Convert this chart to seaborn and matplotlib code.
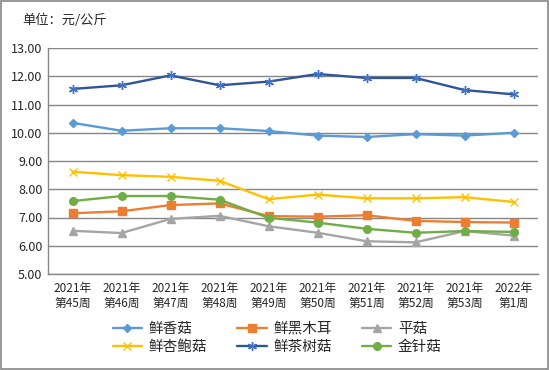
import matplotlib
matplotlib.use('Agg')
import matplotlib.pyplot as plt
import seaborn as sns
import pandas as pd

# ==== DATA ====
WEEKS = ['2021年\n第45周', '2021年\n第46周', '2021年\n第47周', '2021年\n第48周', '2021年\n第49周',
         '2021年\n第50周', '2021年\n第51周', '2021年\n第52周', '2021年\n第53周', '2022年\n第1周']
XIANGGU = [10.35, 10.07, 10.16, 10.16, 10.06, 9.90, 9.85, 9.95, 9.90, 10.00]
HEIMUER = [7.15, 7.22, 7.44, 7.50, 7.05, 7.03, 7.08, 6.88, 6.84, 6.82]
PINGGU = [6.53, 6.45, 6.95, 7.06, 6.69, 6.46, 6.16, 6.12, 6.52, 6.36]
XINGBAOGU = [8.62, 8.50, 8.44, 8.30, 7.65, 7.81, 7.68, 7.68, 7.72, 7.55]
CHASHUGU = [11.55, 11.68, 12.03, 11.68, 11.81, 12.08, 11.94, 11.94, 11.51, 11.36]
JINZHENGU = [7.58, 7.76, 7.76, 7.63, 6.99, 6.82, 6.60, 6.46, 6.52, 6.49]

SERIES = ['鲜香菇', '鲜黑木耳', '平菇', '鲜杏鲍菇', '鲜茶树菇', '金针菇']
VALUES = [XIANGGU, HEIMUER, PINGGU, XINGBAOGU, CHASHUGU, JINZHENGU]
COLORS = ['#5B9BD5', '#ED7D31', '#A5A5A5', '#FFC000', '#2F5597', '#70AD47']
MARKER_COLORS = ['#5B9BD5', '#ED7D31', '#A5A5A5', '#FFC000', '#4472C4', '#70AD47']
MARKERS = ['D', 's', '^', 'x', (6, 2, 0), 'o']
MSIZES = [4.2, 5.5, 5.8, 5.5, 6.5, 5.5]

sns.set_theme(style='white')
plt.rcParams['font.family'] = ['Noto Sans CJK SC', 'DejaVu Sans']

fig = plt.figure(figsize=(5.49, 3.70), dpi=100)
ax = fig.add_axes([48 / 549, 1 - 274 / 370, 490 / 549, 226 / 370])

handles = []
for s, vals, c, mc, mk, ms in zip(SERIES, VALUES, COLORS, MARKER_COLORS, MARKERS, MSIZES):
    d = pd.DataFrame({'week': range(len(vals)), 'price': vals})
    sns.lineplot(data=d, x='week', y='price', color=c, marker=mk, markersize=ms,
                 markeredgecolor=mc, markerfacecolor=mc, markeredgewidth=1.0,
                 linewidth=1.7, ax=ax, label=s, legend=False)
    handles.append(ax.lines[-1])

ax.set_xlim(-0.5, len(WEEKS) - 0.5)
ax.set_ylim(5, 13)
ax.set_yticks(range(5, 14))
ax.set_yticklabels([f'{v:.2f}' for v in range(5, 14)], fontsize=9)
ax.set_xticks(range(len(WEEKS)))
ax.set_xticklabels(WEEKS, fontsize=8.5, linespacing=1.15)
ax.set_xticks([i - 0.5 for i in range(len(WEEKS) + 1)], minor=True)
ax.tick_params(axis='x', which='major', length=0, pad=6)
ax.tick_params(axis='x', which='minor', length=5, color='#868686', width=1, direction='out')
ax.tick_params(axis='y', length=5, color='#868686', width=1, direction='in', pad=4)
ax.set_xlabel('')
ax.set_ylabel('')

ax.grid(axis='y', color='#868686', linewidth=1)
ax.set_axisbelow(True)
for side in ['top', 'right']:
    ax.spines[side].set_visible(False)
for side in ['left', 'bottom']:
    ax.spines[side].set_color('#868686')
    ax.spines[side].set_linewidth(1)

fig.text(22 / 549, 1 - 20 / 370, '单位：元/公斤', fontsize=9.5, va='center', ha='left')

# legend, row-wise order
order = [0, 3, 1, 4, 2, 5]
fig.legend([handles[i] for i in order], [SERIES[i] for i in order],
           ncol=3, loc='center', bbox_to_anchor=(0.505, 1 - 338 / 370),
           frameon=False, fontsize=10.5, handlelength=2.0, columnspacing=2.1,
           handletextpad=0.45, labelspacing=0.3)

# outer border
fig.patches.append(plt.Rectangle((0.002, 0.003), 0.996, 0.994, transform=fig.transFigure,
                                 fill=False, edgecolor='#868686', linewidth=1.2))

fig.savefig('out.png', dpi=100)
